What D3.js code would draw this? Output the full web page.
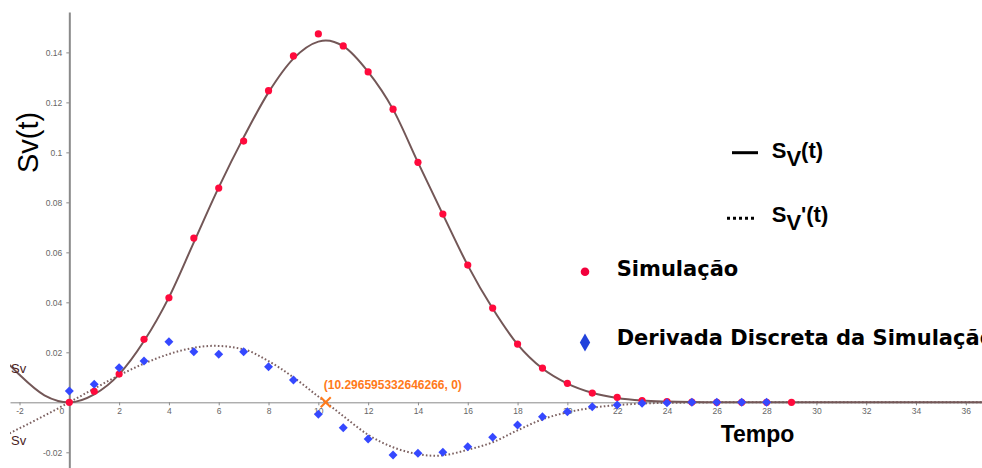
<!DOCTYPE html>
<html>
<head>
<meta charset="utf-8">
<title>Sv(t)</title>
<script src="https://cdn.jsdelivr.net/npm/d3@7"></script>
<style>
    body { margin: 0; background: #fff; }
    #chart { width: 982px; height: 468px; }
    .axis text { font-family: "Liberation Sans", Arial, sans-serif; font-size: 8.5px; fill: #666; }
    .axis path, .axis line { stroke: #8a8a8a; }
</style>
</head>
<body>
<div id="chart"></div>
<script>

// ---- data ----

// simulation points (integer times)
let simTimes = [0, 1, 2, 3, 4, 5, 6, 7, 8, 9, 10, 11, 12, 13, 14, 15, 16, 17, 18, 19, 20, 21, 22, 23, 24, 25, 26, 27, 28, 29];
let simValues = [0, 0.0044, 0.0113, 0.0252, 0.0418, 0.0657, 0.0857, 0.1045, 0.1247, 0.1386, 0.1474, 0.1426, 0.1322, 0.1173, 0.0960,
    0.0753, 0.0549, 0.0377, 0.0233, 0.0137, 0.0076, 0.0037, 0.0020, 0.0007, 0.0003, 0.0001, 0, 0, 0, 0];

// discrete derivative of the simulation
let derivTimes = [0, 1, 2, 3, 4, 5, 6, 7, 8, 9, 10, 11, 12, 13, 14, 15, 16, 17, 18, 19, 20, 21, 22, 23, 24, 25, 26, 27, 28];
let derivValues = [0.0045, 0.0072, 0.0138, 0.0165, 0.0242, 0.0202, 0.0192, 0.0202, 0.0142, 0.0089, -0.0048, -0.0102, -0.0147, -0.0211,
    -0.0204, -0.0200, -0.0178, -0.0140, -0.0091, -0.0058, -0.0038, -0.0018, -0.0011, -0.0004, -0.0002, 0, 0, 0, 0];

// Sv(t) curve, sampled from the drawn line
let svTimes = [-2.4, -2, -1, 0, 1, 2, 3, 4, 5, 6, 7, 8, 9, 10, 10.3, 11, 12, 13, 14, 15, 16, 17, 18, 19, 20, 21, 22, 23, 24, 25, 26, 37];
let svValues = [0.0150, 0.0110, 0.0028, 0, 0.0032, 0.0112, 0.0245, 0.0420, 0.0640, 0.0860, 0.1060, 0.1240, 0.1375, 0.1443, 0.1448, 0.1425,
    0.1322, 0.1172, 0.0960, 0.0752, 0.0548, 0.0375, 0.0232, 0.0135, 0.0075, 0.0038, 0.0017, 0.0007, 0.0003, 0.0001, 0, 0];

// Sv'(t) curve, sampled from the dotted line
let dsvTimes = [-2.4, -1, 0, 1, 2, 3, 4, 5, 5.8, 7, 8, 9, 10, 10.3, 11, 12, 13, 14, 14.7, 15, 16, 17, 18, 19, 20, 21, 22, 23, 24, 25, 26, 37];
let dsvValues = [-0.0124, -0.0053, 0, 0.0055, 0.0108, 0.0155, 0.0193, 0.0218, 0.0226, 0.0212, 0.0165, 0.0100, 0.0023, 0, -0.0055, -0.0130,
    -0.0180, -0.0207, -0.0214, -0.0212, -0.0190, -0.0160, -0.0112, -0.0068, -0.0040, -0.0022, -0.0011, -0.0005, -0.0002, -0.0001, 0, 0];

// root of Sv'(t)
let rootPoint = [10.296595332646266, 0];

// ticks
let xTicks = [-2, 0, 2, 4, 6, 8, 10, 12, 14, 16, 18, 20, 22, 24, 26, 28, 30, 32, 34, 36];
let yTicks = [-0.02, 0.02, 0.04, 0.06, 0.08, 0.1, 0.12, 0.14];
let yTickLabels = ["-0.02", "0.02", "0.04", "0.06", "0.08", "0.1", "0.12", "0.14"];


class SvChart {

    constructor(parentElement) {
        this.parentElement = parentElement;
        this.initVis();
    }

    initVis() {
        let vis = this;

        vis.width = 982;
        vis.height = 468;

        // the graphics view leaves a little white at left and top
        vis.view = {left: 10, top: 12, right: 982, bottom: 468};

        vis.svg = d3.select("#" + vis.parentElement).append("svg")
            .attr("width", vis.width)
            .attr("height", vis.height);

        vis.x = d3.scaleLinear()
            .domain([-2.382, 36.65])
            .range([vis.view.left, vis.view.right]);

        vis.y = d3.scaleLinear()
            .domain([-0.02628, 0.15616])
            .range([vis.view.bottom, vis.view.top]);

        vis.svg.append("clipPath")
            .attr("id", "view-clip")
            .append("rect")
            .attr("x", vis.view.left)
            .attr("y", vis.view.top)
            .attr("width", vis.view.right - vis.view.left)
            .attr("height", vis.view.bottom - vis.view.top);

        vis.drawAxes();
        vis.drawCurves();
        vis.drawPoints();
        vis.drawLabels();
        vis.drawLegend();
    }

    drawAxes() {
        let vis = this;

        vis.xAxis = d3.axisBottom(vis.x)
            .tickValues(xTicks)
            .tickFormat(d => d)
            .tickSize(3)
            .tickSizeOuter(0);

        let gx = vis.svg.append("g")
            .attr("class", "x-axis axis")
            .attr("transform", `translate(0, ${vis.y(0)})`)
            .call(vis.xAxis);

        gx.select(".domain").attr("stroke", "#777").attr("stroke-width", 1);
        gx.selectAll(".tick text").attr("y", 6);
        // the zero label sits left of the y axis
        gx.selectAll(".tick").filter(d => d === 0).select("text").attr("x", -8);
        gx.selectAll(".tick").filter(d => d === 0).select("line").remove();

        vis.yAxis = d3.axisLeft(vis.y)
            .tickValues(yTicks)
            .tickFormat((d, i) => yTickLabels[i])
            .tickSize(3)
            .tickSizeOuter(0);

        let gy = vis.svg.append("g")
            .attr("class", "y-axis axis")
            .attr("transform", `translate(${vis.x(0)}, 0)`)
            .call(vis.yAxis);

        gy.select(".domain").attr("stroke", "#999").attr("stroke-width", 2);
        gy.selectAll(".tick text").attr("x", -7);
    }

    drawCurves() {
        let vis = this;

        let line = d3.line()
            .x(d => vis.x(d[0]))
            .y(d => vis.y(d[1]))
            .curve(d3.curveMonotoneX);

        let curves = vis.svg.append("g").attr("clip-path", "url(#view-clip)");

        curves.append("path")
            .datum(dsvTimes.map((t, i) => [t, dsvValues[i]]))
            .attr("d", line)
            .attr("fill", "none")
            .attr("stroke", "#7d6262")
            .attr("stroke-width", 2)
            .attr("stroke-dasharray", "1.6,2.2");

        curves.append("path")
            .datum(svTimes.map((t, i) => [t, svValues[i]]))
            .attr("d", line)
            .attr("fill", "none")
            .attr("stroke", "#735757")
            .attr("stroke-width", 2);
    }

    drawPoints() {
        let vis = this;

        vis.svg.append("g").selectAll(".sim-dot")
            .data(simTimes.map((t, i) => ({t: t, v: simValues[i]})))
            .enter().append("circle")
            .attr("class", "sim-dot")
            .attr("cx", d => vis.x(d.t))
            .attr("cy", d => vis.y(d.v))
            .attr("r", 3.6)
            .attr("fill", "#ff0a3c");

        let diamond = d3.symbol().type(d3.symbolSquare).size(40);

        vis.svg.append("g").selectAll(".deriv-dot")
            .data(derivTimes.map((t, i) => ({t: t, v: derivValues[i]})))
            .enter().append("path")
            .attr("class", "deriv-dot")
            .attr("d", diamond)
            .attr("transform", d => `translate(${vis.x(d.t)}, ${vis.y(d.v)}) rotate(45)`)
            .attr("fill", "#3548ff");

        // orange root marker
        let rx = vis.x(rootPoint[0]), ry = vis.y(rootPoint[1]);
        let cross = vis.svg.append("g").attr("stroke", "#ff7a1a").attr("stroke-width", 2);
        cross.append("line").attr("x1", rx - 5).attr("y1", ry - 5).attr("x2", rx + 5).attr("y2", ry + 5);
        cross.append("line").attr("x1", rx - 5).attr("y1", ry + 5).attr("x2", rx + 5).attr("y2", ry - 5);

        vis.svg.append("text")
            .attr("x", rx - 2)
            .attr("y", ry - 13)
            .attr("font-family", "Liberation Sans, Arial, sans-serif")
            .attr("font-weight", "bold")
            .attr("font-size", "12px")
            .attr("fill", "#ff7a1a")
            .text(`(${rootPoint[0]}, ${rootPoint[1]})`);
    }

    drawLabels() {
        let vis = this;

        // curve names near left edge
        [373, 445].forEach(yy => {
            vis.svg.append("text")
                .attr("x", 11)
                .attr("y", yy)
                .attr("font-family", "Liberation Sans, Arial, sans-serif")
                .attr("font-size", "13px")
                .attr("fill", "#4a1d1d")
                .text("Sv");
        });

        // y title
        vis.svg.append("text")
            .attr("transform", "translate(38, 142.5) rotate(-90)")
            .attr("text-anchor", "middle")
            .attr("font-family", "Liberation Sans, Arial, sans-serif")
            .attr("font-size", "29px")
            .attr("fill", "#000")
            .text("Sv(t)");

        // x title
        vis.svg.append("text")
            .attr("x", 720.7)
            .attr("y", 441.7)
            .attr("font-family", "Liberation Sans, Arial, sans-serif")
            .attr("font-weight", "bold")
            .attr("font-size", "23px")
            .attr("fill", "#000")
            .text("Tempo");
    }

    drawLegend() {
        let vis = this;
        let leg = vis.svg.append("g").attr("class", "legend");

        // Sv(t) entry
        leg.append("line")
            .attr("x1", 732).attr("x2", 758)
            .attr("y1", 152.7).attr("y2", 152.7)
            .attr("stroke", "#000").attr("stroke-width", 3);

        // Sv'(t) entry
        leg.append("line")
            .attr("x1", 727).attr("x2", 757)
            .attr("y1", 218.3).attr("y2", 218.3)
            .attr("stroke", "#000").attr("stroke-width", 3)
            .attr("stroke-dasharray", "3,3");

        [[158, "(t)"], [221.7, "'(t)"]].forEach(([yy, tail]) => {
            let t = leg.append("text")
                .attr("x", 771.7)
                .attr("y", yy)
                .attr("font-family", "Liberation Sans, Arial, sans-serif")
                .attr("font-weight", "bold")
                .attr("font-size", "22px")
                .attr("fill", "#000");
            t.append("tspan").text("S");
            t.append("tspan").attr("dy", 8).text("V");
            t.append("tspan").attr("dy", -8).text(tail);
        });

        // simulation entry
        leg.append("circle")
            .attr("cx", 585).attr("cy", 271.7).attr("r", 4.3)
            .attr("fill", "#f2003c");

        leg.append("text")
            .attr("x", 616.7).attr("y", 275.7)
            .attr("font-family", "DejaVu Sans, sans-serif")
            .attr("font-weight", "bold")
            .attr("font-size", "21px")
            .attr("fill", "#000")
            .text("Simulação");

        // derivative entry
        leg.append("path")
            .attr("d", d3.symbol().type(d3.symbolDiamond).size(93))
            .attr("transform", "translate(585, 342.5)")
            .attr("fill", "#2142dc");

        leg.append("text")
            .attr("x", 616.7).attr("y", 345)
            .attr("font-family", "DejaVu Sans, sans-serif")
            .attr("font-weight", "bold")
            .attr("font-size", "21px")
            .attr("fill", "#000")
            .text("Derivada Discreta da Simulação");
    }
}

let chart = new SvChart("chart");

</script>
</body>
</html>
